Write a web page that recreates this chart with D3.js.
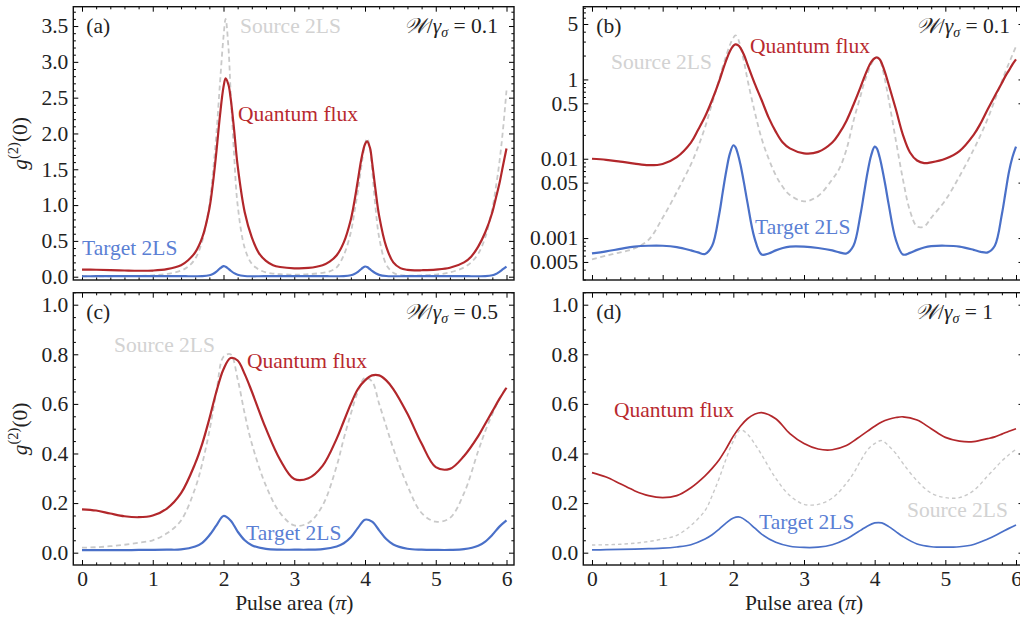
<!DOCTYPE html>
<html><head><meta charset="utf-8">
<script src="https://cdn.jsdelivr.net/npm/d3@7"></script>
<style>
body{margin:0;background:#fff;}
svg{display:block;font-family:"Liberation Serif","Times New Roman",serif;}
</style></head>
<body><svg id="chart" width="1020" height="618"></svg>
<script>
// ---------- data ----------
const xAB = [0,0.2,0.4,0.6,0.8,1.0,1.2,1.4,1.5,1.6,1.7,1.8,1.85,1.9,1.95,2.0,2.03,2.07,2.1,2.15,2.2,2.3,2.4,2.5,2.6,2.7,2.8,3.0,3.2,3.4,3.5,3.6,3.7,3.8,3.85,3.9,3.95,4.0,4.03,4.07,4.1,4.15,4.2,4.3,4.4,4.5,4.6,4.7,4.8,5.0,5.2,5.4,5.5,5.6,5.7,5.8,5.85,5.9,5.95,6.0];
const fluxAB = [0.100,0.097,0.092,0.087,0.083,0.086,0.105,0.16,0.23,0.34,0.55,0.95,1.3,1.75,2.25,2.65,2.77,2.68,2.5,2.05,1.55,0.9,0.55,0.33,0.22,0.16,0.135,0.117,0.122,0.16,0.21,0.3,0.48,0.8,1.05,1.35,1.65,1.85,1.89,1.8,1.6,1.2,0.85,0.42,0.2,0.12,0.095,0.088,0.09,0.1,0.125,0.2,0.28,0.42,0.62,0.9,1.1,1.3,1.55,1.79];
const sourceAB = [0.0054,0.006,0.0066,0.0074,0.0095,0.018,0.038,0.085,0.14,0.25,0.5,1.0,1.45,2.0,2.7,3.35,3.6,3.2,2.6,1.7,1.0,0.4,0.18,0.1,0.062,0.044,0.035,0.029,0.034,0.055,0.075,0.13,0.3,0.62,0.9,1.2,1.55,1.85,1.93,1.8,1.5,0.95,0.55,0.17,0.055,0.022,0.014,0.014,0.018,0.03,0.06,0.13,0.2,0.32,0.55,0.95,1.25,1.6,2.05,2.6];
const targetAB = [0.0064,0.0068,0.0073,0.0078,0.008,0.008,0.0077,0.007,0.0066,0.0063,0.008,0.02,0.038,0.07,0.115,0.148,0.14,0.11,0.085,0.05,0.028,0.01,0.0062,0.0064,0.007,0.0075,0.0078,0.0078,0.0075,0.007,0.0066,0.0064,0.008,0.02,0.037,0.068,0.11,0.142,0.135,0.105,0.08,0.047,0.026,0.0095,0.0062,0.0065,0.0071,0.0076,0.0079,0.008,0.0078,0.0071,0.0067,0.0066,0.008,0.02,0.037,0.068,0.105,0.142];

const xCD = [0,0.2,0.4,0.6,0.8,1.0,1.2,1.4,1.6,1.7,1.8,1.9,2.0,2.1,2.2,2.3,2.4,2.6,2.8,3.0,3.2,3.4,3.6,3.7,3.8,3.9,4.0,4.1,4.2,4.3,4.4,4.6,4.8,5.0,5.2,5.4,5.6,5.7,5.8,5.9,6.0];
const fluxC = [0.175,0.170,0.158,0.147,0.143,0.15,0.178,0.24,0.36,0.44,0.54,0.65,0.74,0.785,0.775,0.72,0.65,0.5,0.375,0.297,0.3,0.35,0.46,0.53,0.6,0.66,0.695,0.715,0.715,0.695,0.66,0.56,0.44,0.345,0.338,0.39,0.47,0.52,0.57,0.62,0.665];
const sourceC = [0.02,0.022,0.026,0.032,0.04,0.05,0.078,0.13,0.26,0.36,0.49,0.65,0.79,0.8,0.7,0.56,0.44,0.27,0.16,0.11,0.12,0.19,0.35,0.46,0.56,0.65,0.705,0.69,0.6,0.51,0.42,0.27,0.16,0.125,0.14,0.24,0.41,0.49,0.56,0.62,0.67];
const targetC = [0.01,0.01,0.01,0.01,0.011,0.011,0.012,0.013,0.025,0.04,0.07,0.11,0.148,0.13,0.085,0.05,0.03,0.015,0.012,0.012,0.012,0.014,0.025,0.038,0.062,0.1,0.133,0.125,0.09,0.055,0.033,0.016,0.012,0.011,0.011,0.014,0.028,0.045,0.072,0.105,0.13];
const fluxD = [0.323,0.305,0.278,0.25,0.23,0.222,0.23,0.262,0.31,0.34,0.375,0.42,0.47,0.51,0.54,0.558,0.565,0.54,0.48,0.44,0.418,0.415,0.432,0.45,0.47,0.49,0.51,0.527,0.538,0.545,0.548,0.535,0.5,0.465,0.45,0.448,0.46,0.467,0.478,0.49,0.5];
const sourceD = [0.031,0.032,0.034,0.038,0.045,0.055,0.07,0.11,0.17,0.23,0.3,0.38,0.45,0.495,0.478,0.44,0.395,0.3,0.23,0.195,0.195,0.22,0.28,0.32,0.37,0.415,0.44,0.452,0.43,0.4,0.36,0.29,0.24,0.222,0.222,0.25,0.31,0.34,0.37,0.395,0.417];
const targetD = [0.011,0.012,0.013,0.014,0.016,0.018,0.023,0.032,0.055,0.072,0.095,0.12,0.14,0.143,0.125,0.1,0.075,0.042,0.026,0.021,0.022,0.032,0.055,0.072,0.09,0.108,0.12,0.12,0.105,0.085,0.065,0.035,0.024,0.022,0.024,0.033,0.055,0.068,0.083,0.098,0.112];

const xTicks = [0,1,2,3,4,5,6];
const yTicksA = [0,0.5,1.0,1.5,2.0,2.5,3.0,3.5];
const yTicksB = [5,1,0.5,0.1,0.05,0.01,0.005];
const yTickLabelsB = ["5","1","0.5","0.01","0.05","0.001","0.005"];
const yTicksCD = [0,0.2,0.4,0.6,0.8,1.0];
const panelTags = ["(a)","(b)","(c)","(d)"];
const ratioValues = ["0.1","0.1","0.5","1"];
const seriesNames = ["Quantum flux","Source 2LS","Target 2LS"];

// ---------- styles ----------
const RED = "#B2272B", BLUE = "#4A70C8", GRAY = "#C9C9C9";
const RED_T = "#B8292E", BLUE_T = "#5B7FD4", GRAY_T = "#D2D2D2";
const svg = d3.select("#chart");
const FS = 21.5;

function range(a,b,s){const r=[];for(let v=a;v<=b+1e-9;v+=s)r.push(+v.toFixed(4));return r;}

const panels = [
  {id:"a", left:73.3, right:514, top:6.7, bottom:280, xd:[-0.123,6.106], yd:[-0.046,3.77], log:false,
   yt:yTicksA, ytf:d=>d.toFixed(1), ym:range(0,3.7,0.1), xs:xAB, flux:fluxAB, src:sourceAB, tgt:targetAB, xlabels:false, ytitle:true,
   lw:2.2, dw:1.8, dash:"5,3.5",
   labels:[{t:1,x:240,y:33},{t:0,x:238,y:121},{t:2,x:82,y:255}]},
  {id:"b", left:583.3, right:1023.5, top:6.7, bottom:280, xd:[-0.123,6.106], yd:[0.00296,8.26], log:true,
   yt:yTicksB, ytf:(d,i)=>yTickLabelsB[i], xs:xAB, flux:fluxAB, src:sourceAB, tgt:targetAB, xlabels:false, ytitle:false,
   lw:2.2, dw:1.8, dash:"5,3.5",
   labels:[{t:0,x:750,y:53},{t:1,x:611,y:69},{t:2,x:755,y:234}]},
  {id:"c", left:73.3, right:514, top:292.7, bottom:565, xd:[-0.123,6.106], yd:[-0.0497,1.0484], log:false,
   yt:yTicksCD, ytf:d=>d.toFixed(1), ym:range(0,1.05,0.05), xs:xCD, flux:fluxC, src:sourceC, tgt:targetC, xlabels:true, ytitle:true,
   lw:2.2, dw:1.8, dash:"5,3.5",
   labels:[{t:1,x:114,y:352},{t:0,x:247,y:368},{t:2,x:246,y:540}]},
  {id:"d", left:583.3, right:1023.5, top:292.7, bottom:565, xd:[-0.123,6.106], yd:[-0.0497,1.0484], log:false,
   yt:yTicksCD, ytf:d=>d.toFixed(1), ym:range(0,1.05,0.05), xs:xCD, flux:fluxD, src:sourceD, tgt:targetD, xlabels:true, ytitle:false,
   lw:1.7, dw:1.4, dash:"3.5,3",
   labels:[{t:0,x:614,y:417},{t:2,x:759,y:529},{t:1,x:907,y:517}]}
];

panels.forEach((p,pi)=>{
  const x = d3.scaleLinear().domain(p.xd).range([p.left,p.right]);
  const y = (p.log? d3.scaleLog(): d3.scaleLinear()).domain(p.yd).range([p.bottom,p.top]);
  const g = svg.append("g");
  const cid = "clip"+p.id;
  svg.append("clipPath").attr("id",cid).append("rect")
    .attr("x",p.left).attr("y",p.top).attr("width",p.right-p.left).attr("height",p.bottom-p.top);

  const xMinor = range(0,6,0.2).filter(v=>Math.abs(v-Math.round(v))>1e-6);
  let yMinor;
  if(p.log){
    yMinor=[];
    [0.001,0.01,0.1,1].forEach(dec=>{for(let k=2;k<=9;k++){const v=+(k*dec).toFixed(6); if(v>p.yd[0]&&v<p.yd[1]&&!yTicksB.includes(v)) yMinor.push(v);}});
  } else yMinor = p.ym.filter(v=>!p.yt.some(t=>Math.abs(t-v)<1e-6));

  const axStyle = sel=>{sel.select(".domain").remove(); sel.selectAll("line").attr("stroke","#000").attr("stroke-width",1);};
  g.append("g").attr("transform",`translate(0,${p.bottom})`)
    .call(d3.axisBottom(x).tickValues(xTicks).tickSize(-5).tickPadding(5.5).tickFormat(p.xlabels? d3.format("d"):""))
    .call(axStyle);
  g.append("g").attr("transform",`translate(0,${p.top})`)
    .call(d3.axisTop(x).tickValues(xTicks).tickSize(-5).tickFormat("")).call(axStyle);
  g.append("g").attr("transform",`translate(${p.left},0)`)
    .call(d3.axisLeft(y).tickValues(p.yt).tickSize(-5).tickPadding(5).tickFormat(p.ytf)).call(axStyle);
  g.append("g").attr("transform",`translate(${p.right},0)`)
    .call(d3.axisRight(y).tickValues(p.yt).tickSize(-5).tickFormat("")).call(axStyle);
  g.append("g").attr("transform",`translate(0,${p.bottom})`)
    .call(d3.axisBottom(x).tickValues(xMinor).tickSize(-2.6).tickFormat("")).call(axStyle);
  g.append("g").attr("transform",`translate(0,${p.top})`)
    .call(d3.axisTop(x).tickValues(xMinor).tickSize(-2.6).tickFormat("")).call(axStyle);
  g.append("g").attr("transform",`translate(${p.left},0)`)
    .call(d3.axisLeft(y).tickValues(yMinor).tickSize(-2.6).tickFormat("")).call(axStyle);
  g.append("g").attr("transform",`translate(${p.right},0)`)
    .call(d3.axisRight(y).tickValues(yMinor).tickSize(-2.6).tickFormat("")).call(axStyle);
  g.selectAll("text").attr("font-family","Liberation Serif").attr("font-size",FS).attr("fill","#222");

  g.append("rect").attr("x",p.left).attr("y",p.top).attr("width",p.right-p.left).attr("height",p.bottom-p.top)
    .attr("fill","none").attr("stroke","#111").attr("stroke-width",1.4);

  const line = arr => d3.line().curve(d3.curveCatmullRom.alpha(0.5)).x((d,i)=>x(p.xs[i])).y(d=>y(d))(arr);
  const lg = g.append("g").attr("clip-path",`url(#${cid})`);
  lg.append("path").attr("d",line(p.src)).attr("fill","none").attr("stroke",GRAY).attr("stroke-width",p.dw).attr("stroke-dasharray",p.dash);
  lg.append("path").attr("d",line(p.flux)).attr("fill","none").attr("stroke",RED).attr("stroke-width",p.lw);
  lg.append("path").attr("d",line(p.tgt)).attr("fill","none").attr("stroke",BLUE).attr("stroke-width",p.lw);

  const cols=[RED_T,GRAY_T,BLUE_T];
  p.labels.forEach(l=>{
    g.append("text").attr("x",l.x).attr("y",l.y).attr("font-size",FS).attr("fill",cols[l.t]).text(seriesNames[l.t]);
  });
  g.append("text").attr("x",p.left+13).attr("y",p.top+26).attr("font-size",FS).attr("fill","#222").text(panelTags[pi]);
  const wt = g.append("text").attr("x",p.right-(p.id==="b"?13.5:16)).attr("y",p.top+26).attr("text-anchor","end")
     .attr("font-size",FS).attr("fill","#222");
  wt.append("tspan").attr("font-family","DejaVu Serif").attr("font-style","italic").text("𝒲");
  wt.append("tspan").text("/");
  wt.append("tspan").attr("font-style","italic").text("γ");
  wt.append("tspan").attr("font-style","italic").attr("font-size",14).attr("dy",4).text("σ");
  wt.append("tspan").attr("dy",-4).text(" = " + ratioValues[pi]);
  if(p.id==="d") wt.attr("x",p.right-30.5);

  if(p.ytitle){
    const cy=(p.top+p.bottom)/2;
    const t=g.append("text").attr("transform",`translate(27,${cy}) rotate(-90)`).attr("text-anchor","middle")
      .attr("font-size",FS).attr("fill","#222");
    t.append("tspan").attr("font-style","italic").text("g");
    t.append("tspan").attr("font-size",14.5).attr("dy",-9).text("(2)");
    t.append("tspan").attr("dy",9).text("(0)");
  }
  if(p.xlabels){
    const t=g.append("text").attr("x",x(3)).attr("y",610).attr("text-anchor","middle").attr("font-size",FS).attr("fill","#222");
    t.append("tspan").text("Pulse area (");
    t.append("tspan").attr("font-style","italic").text("π");
    t.append("tspan").text(")");
  }
});
</script></body></html>
